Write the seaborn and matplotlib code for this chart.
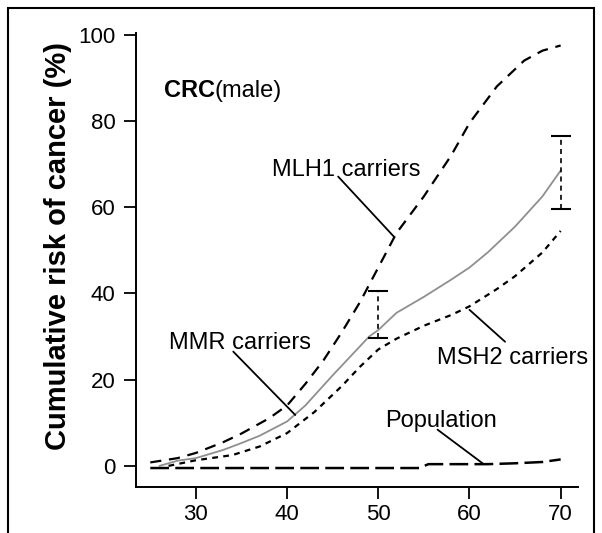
import numpy as np
import pandas as pd
import matplotlib
matplotlib.use('Agg')
import matplotlib.pyplot as plt
import seaborn as sns

# Data (age in years, cumulative risk in %)
mlh1_age = [25, 28, 30, 33, 35, 38, 40, 42, 44, 46, 48, 50, 52, 55, 58, 60, 63, 66, 68, 70]
mlh1_risk = [0.8, 1.8, 3.0, 5.5, 7.5, 11, 14, 19, 24.5, 31, 38, 46, 54, 62.5, 72, 79.5, 88, 94, 96.3, 97.5]

mmr_age = [26, 28, 30, 33, 35, 37, 40, 42, 45, 47, 49, 50, 52, 55, 58, 60, 62, 65, 68, 70]
mmr_risk = [0, 1.2, 1.8, 3.7, 5.3, 7, 10.3, 14, 21, 25.5, 30, 31.5, 35.5, 39.2, 43.2, 46, 49.5, 55.5, 62.5, 68.5]

msh2_age = [27, 30, 34, 37, 40, 43, 46, 48, 50, 52, 55, 58, 60, 63, 65, 68, 70]
msh2_risk = [0, 1.3, 2.5, 4.5, 7.6, 12.5, 18.5, 23, 27, 29.5, 32.5, 35, 37, 41, 44, 49.5, 54.5]

pop_age = [25, 54.5, 55.5, 62, 65, 68, 70]
pop_risk = [-0.5, -0.5, 0.4, 0.4, 0.6, 0.9, 1.5]

# MMR confidence intervals
ci_age = [50, 70]
ci_low = [29.6, 59.5]
ci_high = [40.6, 76.5]

sns.set_style('ticks')
plt.rcParams['font.family'] = ['Liberation Sans', 'DejaVu Sans']
plt.rcParams['text.color'] = 'black'
plt.rcParams['axes.labelcolor'] = 'black'

fig = plt.figure(figsize=(6.02, 5.33), dpi=100)
ax = fig.add_axes([0.2254, 0.0863, 0.7347, 0.8518])

sns.lineplot(x=mlh1_age, y=mlh1_risk, ax=ax, color='black', lw=1.6,
             linestyle=(0, (5, 3.5)))
sns.lineplot(x=mmr_age, y=mmr_risk, ax=ax, color='#8f8f8f', lw=1.3)
sns.lineplot(x=msh2_age, y=msh2_risk, ax=ax, color='black', lw=1.6,
             linestyle=(0, (2.6, 2.4)))
sns.lineplot(x=pop_age, y=pop_risk, ax=ax, color='black', lw=1.8,
             linestyle=(0, (7.5, 2.5)))

# error bars: dashed vertical, solid caps
err_lo = np.zeros(len(ci_age))
err_hi = np.array(ci_high) - np.array(ci_low)
eb = ax.errorbar(ci_age, ci_low, yerr=[err_lo, err_hi], fmt='none', ecolor='black',
                 elinewidth=1.2, capsize=7.5, capthick=1.5)
eb[2][0].set_linestyle((0, (3, 2.5)))

# labels with leader lines
labels = ['MLH1 carriers', 'MMR carriers', 'MSH2 carriers', 'Population']
label_pos = [(38.4, 67.3), (27.1, 27.2), (56.4, 23.7), (50.7, 9.1)]
leader_start = [(45.6, 67.1), (34.1, 26.5), (60.0, 36.2), (56.5, 8.4)]
leader_end = [(51.7, 53.2), (40.9, 11.8), (63.9, 28.8), (61.5, 0.5)]

for lab, pos, s, e in zip(labels, label_pos, leader_start, leader_end):
    ax.text(pos[0], pos[1], lab, fontsize=17, ha='left', va='baseline')
    ax.annotate('', xy=e, xytext=s,
                arrowprops=dict(arrowstyle='-', lw=1.3, color='black',
                                shrinkA=0, shrinkB=0))

t1 = ax.text(26.5, 85.6, 'CRC', fontsize=17, fontweight='bold', ha='left', va='baseline')
ax.annotate('(male)', xy=(1, 0), xycoords=t1, fontsize=17, ha='left', va='bottom')

ax.set_xlim(23.4, 71.9)
ax.set_ylim(-4.9, 100.4)
ax.set_xticks([30, 40, 50, 60, 70])
ax.set_yticks([0, 20, 40, 60, 80, 100])
ax.tick_params(axis='both', direction='out', length=8.5, width=1.3, labelsize=16,
               color='black', labelcolor='black')
ax.tick_params(axis='y', pad=6)
ax.tick_params(axis='x', pad=4)
for side in ['left', 'bottom']:
    ax.spines[side].set_linewidth(1.4)
    ax.spines[side].set_color('black')
sns.despine(ax=ax)

ax.set_xlabel('')
ax.set_ylabel('Cumulative risk of cancer (%)', fontsize=21, fontweight='bold')
ax.yaxis.set_label_coords(-0.143, 0.53)

# outer frame
frame = plt.Rectangle((8 / 602, -0.1), (594 - 8) / 602, (533 - 8) / 533 + 0.1,
                      transform=fig.transFigure, fill=False, lw=1.5, color='black')
fig.add_artist(frame)

fig.savefig('out.png', dpi=100)
